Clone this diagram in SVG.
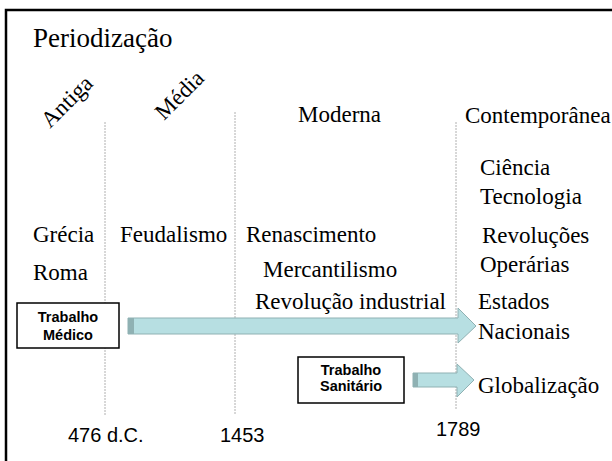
<svg xmlns="http://www.w3.org/2000/svg" width="612" height="461" viewBox="0 0 612 461">
<style>
.t{font-family:"Liberation Serif","Times New Roman",serif;font-size:23px;fill:#000}
.s{font-family:"Liberation Sans",Arial,sans-serif;font-size:20px;fill:#000}
.b{font-family:"Liberation Sans",Arial,sans-serif;font-size:14.5px;font-weight:bold;fill:#000;text-anchor:middle}
.v{stroke:#b0b0b0;stroke-width:1;stroke-dasharray:2 1;fill:none}
.box{fill:#fff;stroke:#000;stroke-width:1.5}
.arr{fill:#b7dfe2;stroke:#8fb1b3;stroke-width:1}
.cap{fill:#8fb1b3}
</style>
<rect x="0" y="0" width="612" height="461" fill="#fff"/>
<path d="M6,461 V10 H612" fill="none" stroke="#000" stroke-width="2.5"/>
<text x="33" y="47" class="t" style="font-size:27px">Periodização</text>
<g id="guides">
<line class="v" x1="105" y1="122" x2="105" y2="415"/>
<line class="v" x1="235" y1="112" x2="235" y2="415"/>
<line class="v" x1="456" y1="122" x2="456" y2="410"/>
</g>
<g id="eras">
<text class="t" transform="translate(50,129) rotate(-45)">Antiga</text>
<text class="t" transform="translate(164,121) rotate(-45)">Média</text>
<text class="t" x="298" y="122">Moderna</text>
<text class="t" x="465" y="123">Contemporânea</text>
</g>
<g id="items">
<text class="t" x="33" y="242">Grécia</text>
<text class="t" x="33" y="280">Roma</text>
<text class="t" x="120" y="242">Feudalismo</text>
<text class="t" x="246" y="242">Renascimento</text>
<text class="t" x="263" y="277">Mercantilismo</text>
<text class="t" x="255" y="309">Revolução industrial</text>
<text class="t" x="480" y="175">Ciência</text>
<text class="t" x="480" y="204">Tecnologia</text>
<text class="t" x="482" y="243">Revoluções</text>
<text class="t" x="480" y="272">Operárias</text>
<text class="t" x="478" y="309">Estados</text>
<text class="t" x="478" y="339">Nacionais</text>
<text class="t" x="478" y="393">Globalização</text>
</g>
<g id="connectors">
<path class="arr" d="M128,318 H458 V308 L476,326 L458,343 V334 H128 Z"/>
<rect class="cap" x="128" y="318" width="6" height="16"/>
<path class="arr" d="M413,373 H457 V364 L474,380 L457,397 V387 H413 Z"/>
<rect class="cap" x="413" y="373" width="5" height="14"/>
</g>
<g id="trabalho-medico">
<rect class="box" x="17" y="303" width="102" height="45"/>
<text class="b" x="68" y="322">Trabalho</text>
<text class="b" x="68" y="340">Médico</text>
</g>
<g id="trabalho-sanitario">
<rect class="box" x="298" y="357" width="106" height="46"/>
<text class="b" x="351" y="375">Trabalho</text>
<text class="b" x="351" y="391">Sanitário</text>
</g>
<g id="dates">
<text class="s" x="68" y="442">476 d.C.</text>
<text class="s" x="220" y="442">1453</text>
<text class="s" x="436" y="436">1789</text>
</g>
</svg>
